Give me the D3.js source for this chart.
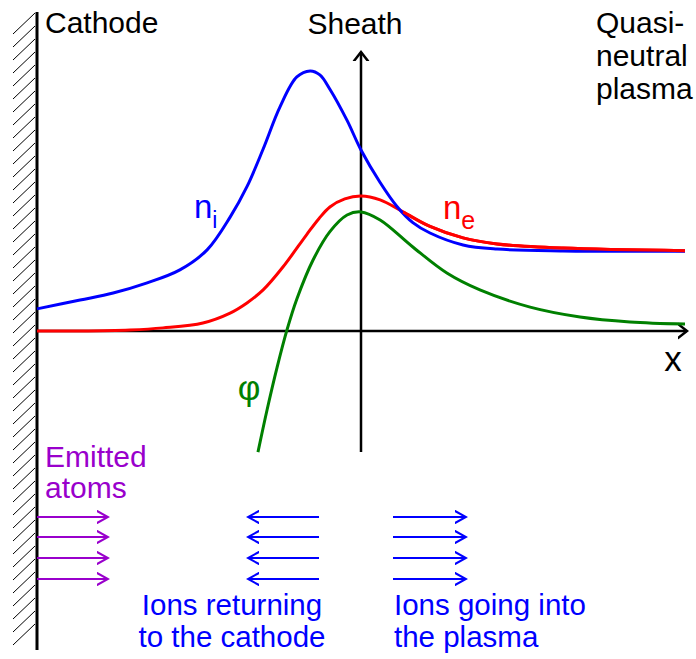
<!DOCTYPE html>
<html>
<head>
<meta charset="utf-8">
<script src="https://cdn.jsdelivr.net/npm/d3@7"></script>
<style>
  body { margin: 0; background: #fff; }
  svg { display: block; font-family: Arial, "Liberation Sans", Helvetica, sans-serif; }
</style>
</head>
<body>
<div id="chart"></div>
<script>
// position along x (cathode = -1, sheath edge = 0, plasma end = 1)
const niX = [-1, -0.867, -0.765, -0.66, -0.559, -0.475, -0.404, -0.352, -0.302, -0.25, -0.198, -0.157, -0.127, -0.096, -0.043, 0, 0.059, 0.111, 0.16, 0.213, 0.315, 0.42, 0.623, 1];
const niY = [0.085, 0.119, 0.146, 0.185, 0.235, 0.312, 0.438, 0.555, 0.70, 0.862, 0.977, 1.0, 0.985, 0.93, 0.81, 0.696, 0.571, 0.479, 0.417, 0.377, 0.331, 0.315, 0.308, 0.307];

const neX = [-1, -0.867, -0.713, -0.611, -0.488, -0.404, -0.352, -0.302, -0.241, -0.167, -0.13, -0.096, -0.05, 0, 0.059, 0.13, 0.213, 0.315, 0.42, 0.623, 1];
const neY = [0, 0, 0.004, 0.012, 0.031, 0.069, 0.108, 0.158, 0.246, 0.372, 0.432, 0.477, 0.508, 0.519, 0.504, 0.458, 0.402, 0.358, 0.335, 0.319, 0.309];

const phiX = [-0.318, -0.29, -0.259, -0.228, -0.198, -0.148, -0.096, -0.043, 0, 0.059, 0.16, 0.265, 0.367, 0.522, 0.676, 0.83, 1];
const phiY = [-0.466, -0.304, -0.14, 0.006, 0.123, 0.273, 0.382, 0.446, 0.458, 0.427, 0.323, 0.223, 0.158, 0.092, 0.054, 0.035, 0.027];

const W = 696, H = 659;
const x = d3.scaleLinear().domain([-1, 1]).range([37, 685]);
const y = d3.scaleLinear().domain([0, 1]).range([331, 71]);

const svg = d3.select('#chart').append('svg')
  .attr('width', W).attr('height', H);

const defs = svg.append('defs');
function openArrow(id, color, len, half, sw) {
  defs.append('marker')
    .attr('id', id)
    .attr('viewBox', `0 ${-half - 2} ${len + 2} ${2 * half + 4}`)
    .attr('refX', len).attr('refY', 0)
    .attr('markerUnits', 'userSpaceOnUse')
    .attr('markerWidth', len + 2).attr('markerHeight', 2 * half + 4)
    .attr('orient', 'auto')
    .append('path')
    .attr('d', `M0,${-half}L${len},0L0,${half}`)
    .attr('fill', 'none').attr('stroke', color).attr('stroke-width', sw)
    .attr('stroke-linecap', 'round').attr('stroke-linejoin', 'miter');
}
openArrow('axisArrow', '#000', 9, 7, 2.5);
openArrow('blueArrow', '#0000ff', 11, 6, 2);
openArrow('purpleArrow', '#9900cc', 11, 6, 2);

// cathode wall with hatching
const wallTop = 12, wallBottom = 650;
const hatch = svg.append('g').attr('stroke', '#000').attr('stroke-width', 1);
for (let yy = wallTop + 22; yy <= wallBottom + 6; yy += 13) {
  hatch.append('line')
    .attr('x1', 13).attr('y1', yy)
    .attr('x2', 35).attr('y2', yy - 21);
}
svg.append('line')
  .attr('x1', x(-1)).attr('x2', x(-1))
  .attr('y1', wallTop).attr('y2', wallBottom)
  .attr('stroke', '#000').attr('stroke-width', 3);

// axes
svg.append('line')
  .attr('x1', x(-1)).attr('x2', x(1) + 2)
  .attr('y1', y(0)).attr('y2', y(0))
  .attr('stroke', '#000').attr('stroke-width', 2.5)
  .attr('marker-end', 'url(#axisArrow)');
svg.append('line')
  .attr('x1', x(0)).attr('x2', x(0))
  .attr('y1', y(-0.465)).attr('y2', y(1.073))
  .attr('stroke', '#000').attr('stroke-width', 2.5)
  .attr('marker-end', 'url(#axisArrow)');

// curves
const line = d3.line()
  .x(d => x(d[0])).y(d => y(d[1]))
  .curve(d3.curveCatmullRom.alpha(0.5));
const series = [
  { xs: neX, ys: neY, color: '#ff0000' },
  { xs: phiX, ys: phiY, color: '#008000' },
  { xs: niX, ys: niY, color: '#0000ff' }
];
series.forEach(s => {
  svg.append('path')
    .datum(s.xs.map((v, i) => [v, s.ys[i]]))
    .attr('d', line)
    .attr('fill', 'none')
    .attr('stroke', s.color)
    .attr('stroke-width', 3);
});
// red on top where they meet on the right
svg.append('path')
  .datum(neX.map((v, i) => [v, neY[i]]).filter(d => d[0] >= 0.1))
  .attr('d', line)
  .attr('fill', 'none').attr('stroke', '#ff0000').attr('stroke-width', 3);

// text labels
function label(tx, ty, str, color, size, anchor) {
  return svg.append('text')
    .attr('x', tx).attr('y', ty)
    .attr('fill', color)
    .attr('font-size', size)
    .attr('text-anchor', anchor || 'start')
    .text(str);
}
label(45, 33, 'Cathode', '#000', 30);
label(355, 34, 'Sheath', '#000', 30, 'middle');
label(596, 33, 'Quasi-', '#000', 30);
label(596, 66, 'neutral', '#000', 30);
label(596, 99, 'plasma', '#000', 30);
label(673, 371, 'x', '#000', 35, 'middle');

const ni = label(194, 218, 'n', '#0000ff', 33);
ni.append('tspan').attr('dy', 10).attr('font-size', 23).text('i');
const ne = label(443, 219, 'n', '#ff0000', 33);
ne.append('tspan').attr('dy', 10).attr('font-size', 25).text('e');
label(249, 400, 'φ', '#008000', 35, 'middle');

label(45, 467, 'Emitted', '#9900cc', 30);
label(45, 498, 'atoms', '#9900cc', 30);
label(232, 615, 'Ions returning', '#0000ff', 29.5, 'middle');
label(232, 647, 'to the cathode', '#0000ff', 29.5, 'middle');
label(394, 615, 'Ions going into', '#0000ff', 29.5);
label(394, 647, 'the plasma', '#0000ff', 29.5);

// flux arrows
const arrowRows = [517, 537, 558, 579];
const arrowGroups = [
  { from: 37, to: 108, marker: 'purpleArrow', color: '#9900cc' },
  { from: 319, to: 248, marker: 'blueArrow', color: '#0000ff' },
  { from: 393, to: 466, marker: 'blueArrow', color: '#0000ff' }
];
arrowGroups.forEach(g => {
  arrowRows.forEach(ry => {
    svg.append('line')
      .attr('x1', g.from).attr('x2', g.to)
      .attr('y1', ry).attr('y2', ry)
      .attr('stroke', g.color).attr('stroke-width', 2)
      .attr('marker-end', `url(#${g.marker})`);
  });
});
</script>
</body>
</html>
